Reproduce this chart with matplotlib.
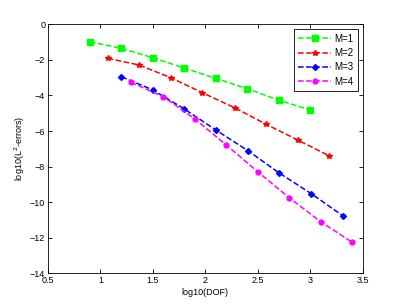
import numpy as np
import matplotlib.pyplot as plt

plt.rcParams['font.family'] = ['Liberation Sans', 'DejaVu Sans']

# data
x_m1 = [0.9, 1.2, 1.5, 1.8, 2.1, 2.4, 2.7, 3.0]
y_m1 = [-0.98, -1.35, -1.88, -2.46, -3.04, -3.62, -4.26, -4.82]

x_m2 = [1.07, 1.37, 1.67, 1.97, 2.28, 2.58, 2.88, 3.18]
y_m2 = [-1.91, -2.29, -3.00, -3.84, -4.69, -5.62, -6.50, -7.39]

x_m3 = [1.2, 1.5, 1.8, 2.1, 2.41, 2.7, 3.01, 3.31]
y_m3 = [-2.95, -3.69, -4.76, -5.94, -7.12, -8.34, -9.52, -10.76]

x_m4 = [1.29, 1.6, 1.9, 2.2, 2.5, 2.8, 3.1, 3.4]
y_m4 = [-3.26, -4.07, -5.32, -6.78, -8.29, -9.75, -11.10, -12.25]

fig = plt.figure(figsize=(3.98, 3.07), dpi=100)
ax = fig.add_axes([0.1206, 0.1098, 0.7904, 0.811])

ax.plot(x_m1, y_m1, '--s', color='#00ff00', lw=1.1, ms=3.8, label='M=1')
ax.plot(x_m2, y_m2, '--*', color='#ff0000', lw=1.1, ms=3.8, label='M=2')
ax.plot(x_m3, y_m3, '--D', color='#0000ff', lw=1.1, ms=3.0, label='M=3')
ax.plot(x_m4, y_m4, '--o', color='#ff00ff', lw=1.1, ms=3.5, label='M=4')

ax.set_xlim(0.5, 3.5)
ax.set_ylim(-14, 0)
ax.set_xticks(np.arange(0.5, 3.6, 0.5))
ax.set_xticklabels(['0.5', '1', '1.5', '2', '2.5', '3', '3.5'])
ax.set_yticks(np.arange(-14, 1, 2))
ax.tick_params(direction='in', top=True, right=True, labelsize=6.5, length=3, width=0.6, pad=2)
for s in ax.spines.values():
    s.set_linewidth(0.6)

ax.set_xlabel('log10(DOF)', fontsize=6.5, labelpad=2)
ax.set_ylabel('log10(L$^2$-errors)', fontsize=6.5, labelpad=2)

leg = ax.legend(loc='upper right', fontsize=7, fancybox=False, edgecolor='black',
                framealpha=1, handlelength=3.4, borderaxespad=0.5, labelspacing=0.45,
                handletextpad=0.3, borderpad=0.45)
leg.get_frame().set_linewidth(0.6)

fig.savefig('out.png', dpi=100)
